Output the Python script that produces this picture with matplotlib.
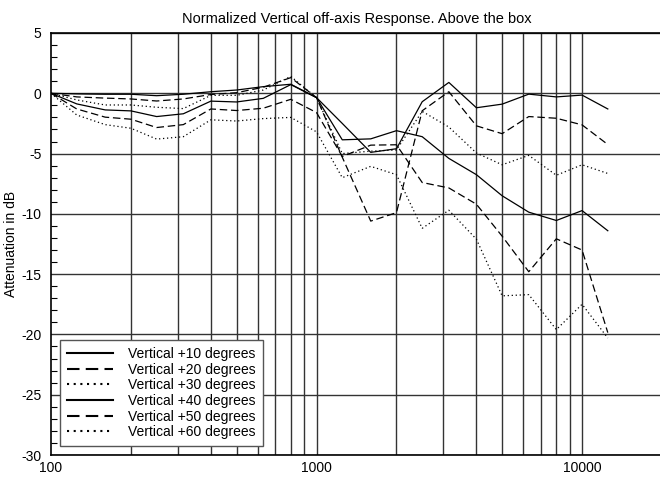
import matplotlib
matplotlib.use("Agg")
import matplotlib.pyplot as plt

freqs = [100, 125, 160, 200, 250, 315, 400, 500, 630, 800, 1000, 1250, 1600,
         2000, 2500, 3150, 4000, 5000, 6300, 8000, 10000, 12500]

v10 = [0, -0.05, -0.08, -0.08, -0.2, -0.08, 0.13, 0.27, 0.55, 0.75, -0.36,
       -2.5, -4.9, -4.6, -0.7, 0.9, -1.2, -0.9, -0.07, -0.3, -0.15, -1.3]
v20 = [0, -0.3, -0.4, -0.47, -0.64, -0.47, -0.1, 0.05, 0.5, 1.3, -0.36,
       -5.3, -10.6, -9.9, -1.45, 0.13, -2.7, -3.35, -1.93, -2.07, -2.62, -4.25]
v30 = [0, -0.55, -0.97, -0.97, -1.16, -1.27, -0.17, -0.17, 0.27, 1.4, -0.36,
       -5.0, -4.8, -4.7, -1.5, -2.8, -4.95, -5.93, -5.15, -6.8, -5.93, -6.65]
v40 = [0, -0.88, -1.38, -1.46, -1.93, -1.7, -0.65, -0.72, -0.42, 0.72, -0.36,
       -3.86, -3.78, -3.1, -3.6, -5.4, -6.75, -8.5, -9.86, -10.55, -9.73, -11.4]
v50 = [0, -1.3, -1.98, -2.15, -2.84, -2.6, -1.3, -1.43, -1.24, -0.5, -1.6,
       -5.24, -4.3, -4.27, -7.4, -7.85, -9.2, -11.85, -14.8, -12.07, -13.0, -19.85]
v60 = [0, -1.8, -2.6, -2.9, -3.8, -3.6, -2.2, -2.3, -2.1, -2.0, -3.2,
       -7.0, -6.06, -6.75, -11.2, -9.7, -12.1, -16.8, -16.7, -19.6, -17.5, -20.3]

labels = ["Vertical +10 degrees", "Vertical +20 degrees", "Vertical +30 degrees",
          "Vertical +40 degrees", "Vertical +50 degrees", "Vertical +60 degrees"]
series = [v10, v20, v30, v40, v50, v60]

yticks = [5, 0, -5, -10, -15, -20, -25, -30]
xticks = [100, 1000, 10000]
xtick_labels = ["100", "1000", "10000"]

plt.rcParams['font.family'] = ['Liberation Sans', 'DejaVu Sans']
plt.rcParams['axes.unicode_minus'] = False

fig = plt.figure(figsize=(6.6, 4.78), dpi=100)
ax = fig.add_axes([51/660, 23/478, (662-51)/660, (455-33)/478])

styles = ['-', (0, (6, 3)), (0, (1, 2.2)), '-', (0, (6, 3)), (0, (1, 2.2))]
for vals, lab, ls in zip(series, labels, styles):
    ax.plot(freqs, vals, color='black', linestyle=ls, linewidth=0.9, label=lab)

ax.set_xscale('log')
ax.set_xlim(100, 20000)
ax.set_ylim(-30, 5)

# grid
minor_x = [m * d for d in (100, 1000) for m in range(2, 10)] + [1000, 10000]
for xv in minor_x:
    ax.axvline(xv, color='#333333', linewidth=1.0, zorder=0)
for yv in yticks:
    ax.axhline(yv, color='#333333', linewidth=1.0, zorder=0)

ax.set_xticks(xticks)
ax.set_xticklabels(xtick_labels)
ax.xaxis.set_minor_locator(matplotlib.ticker.NullLocator())
ax.tick_params(axis='x', length=0, labelsize=10, pad=4)
ax.set_yticks(yticks)
ax.set_yticks([v for v in range(-30, 6) if v % 5 != 0], minor=True)
ax.tick_params(axis='y', which='major', length=0, labelsize=10, pad=7)
ax.tick_params(axis='y', which='minor', direction='in', length=4, width=0.8)

for s in ax.spines.values():
    s.set_linewidth(1.2)
    s.set_color('black')

ax.set_ylabel("Attenuation in dB", fontsize=10, labelpad=2)
ax.set_title("Normalized Vertical off-axis Response. Above the box", fontsize=10.5, pad=7)

leg = ax.legend(loc='upper left', bbox_to_anchor=(0.015, 0.2725), fontsize=10,
                handlelength=3.3, labelspacing=0.12, fancybox=False,
                framealpha=1, edgecolor='#555555', borderaxespad=0,
                handletextpad=1.1, borderpad=0.5)
leg.get_frame().set_linewidth(1.0)
for line in leg.get_lines():
    line.set_linewidth(1.5)

fig.savefig("out.png", dpi=100)
